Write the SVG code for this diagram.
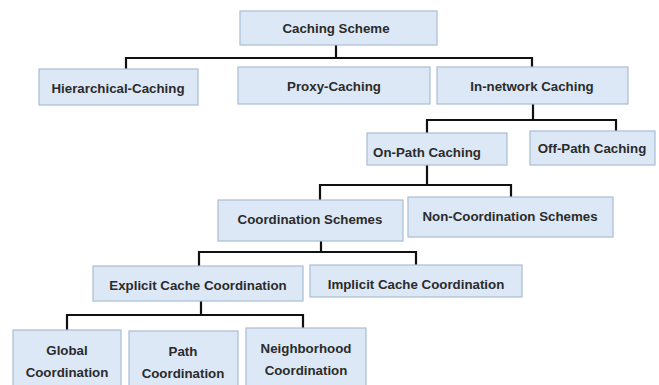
<svg xmlns="http://www.w3.org/2000/svg" width="659" height="385" viewBox="0 0 659 385">
<style>
.box{fill:#dce8f6;stroke:#a9bdd3;stroke-width:1.2}
.t{font-family:"Liberation Sans",Arial,sans-serif;font-weight:bold;font-size:13.3px;fill:#2b2b2b;text-anchor:middle;dominant-baseline:central}
.c{fill:none;stroke:#111;stroke-width:2.2}
</style>
<rect width="659" height="385" fill="#fff"/>
<g id="connectors">
<path class="c" d="M336,45V58M126,69V58H532V67"/>
<path class="c" d="M533,104V120M427,133V120H616V131"/>
<path class="c" d="M427,165V185M320,200V185H511V197"/>
<path class="c" d="M321,241V252M199,266V252H416V265"/>
<path class="c" d="M201,301V315M67,330V315H303V328"/>
</g>
<g id="caching-scheme"><rect class="box" x="240" y="11" width="197" height="34"/><text class="t" x="336" y="28">Caching Scheme</text></g>
<g id="hierarchical"><rect class="box" x="39" y="69" width="159" height="36"/><text class="t" x="118" y="88">Hierarchical-Caching</text></g>
<g id="proxy"><rect class="box" x="238" y="67" width="192" height="37"/><text class="t" x="334" y="86">Proxy-Caching</text></g>
<g id="in-network"><rect class="box" x="437" y="67" width="191" height="37"/><text class="t" x="532" y="86">In-network Caching</text></g>
<g id="on-path"><rect class="box" x="367" y="133" width="140" height="32"/><text class="t" x="427" y="152">On-Path Caching</text></g>
<g id="off-path"><rect class="box" x="530" y="131" width="125" height="34"/><text class="t" x="592" y="148">Off-Path Caching</text></g>
<g id="coordination"><rect class="box" x="218" y="200" width="185" height="41"/><text class="t" x="310" y="219">Coordination Schemes</text></g>
<g id="non-coordination"><rect class="box" x="408" y="197" width="205" height="40"/><text class="t" x="510" y="216">Non-Coordination Schemes</text></g>
<g id="explicit"><rect class="box" x="93" y="266" width="210" height="35"/><text class="t" x="198" y="285">Explicit Cache Coordination</text></g>
<g id="implicit"><rect class="box" x="310" y="265" width="212" height="32"/><text class="t" x="416" y="284">Implicit Cache Coordination</text></g>
<g id="global"><rect class="box" x="13" y="330" width="108" height="60"/><text class="t" x="67" y="350">Global</text><text class="t" x="67" y="372">Coordination</text></g>
<g id="path"><rect class="box" x="129" y="331" width="109" height="60"/><text class="t" x="183" y="351">Path</text><text class="t" x="183" y="373">Coordination</text></g>
<g id="neighborhood"><rect class="box" x="246" y="328" width="120" height="62"/><text class="t" x="306" y="348">Neighborhood</text><text class="t" x="306" y="370">Coordination</text></g>
</svg>
